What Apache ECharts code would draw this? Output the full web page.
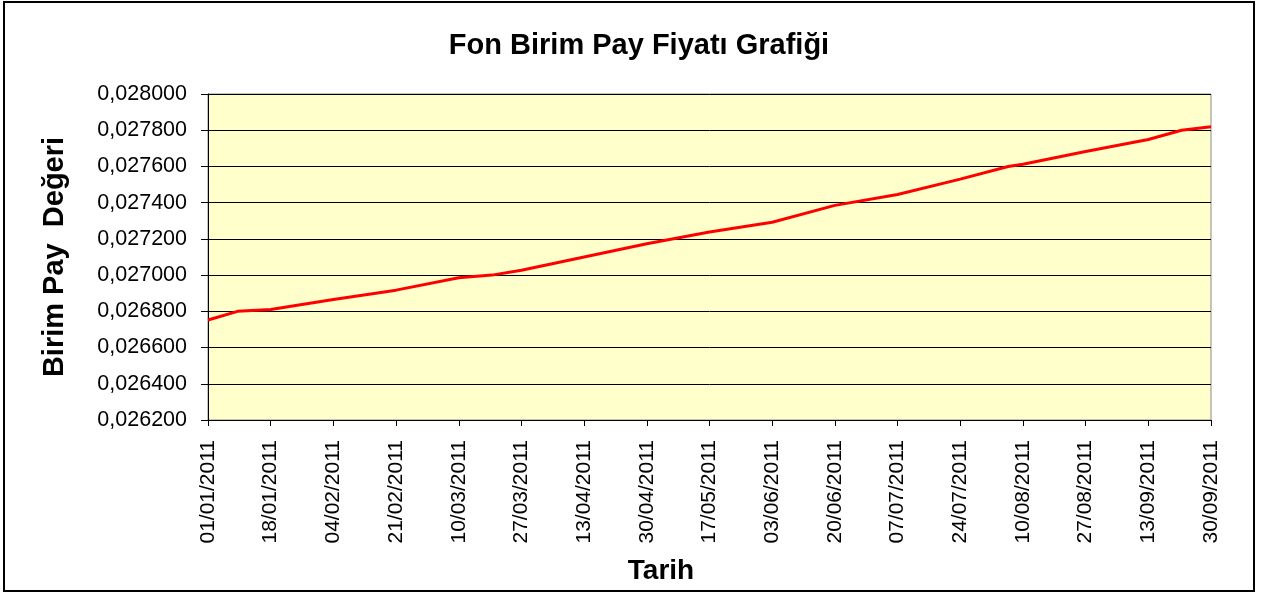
<!DOCTYPE html>
<html>
<head>
<meta charset="utf-8">
<script src="https://cdn.jsdelivr.net/npm/echarts@6/dist/echarts.min.js"></script>
<style>
html,body{margin:0;padding:0;background:#fff;}
#chart{width:1264px;height:597px;}
</style>
</head>
<body>
<div id="chart"></div>
<script>
// Day index counted from 01/01/2011
const dayIndex = [0, 8, 17, 34, 51, 68, 77, 85, 102, 119, 136, 153, 170, 187, 204, 217, 221, 238, 255, 264, 272];
const unitValues = [0.026752, 0.026800, 0.026810, 0.026865, 0.026917, 0.026985, 0.027000, 0.027027, 0.027100, 0.027173, 0.027238, 0.027292, 0.027385, 0.027445, 0.027530, 0.027600, 0.027612, 0.027682, 0.027749, 0.027800, 0.027819];
const tickLabels = ['01/01/2011','18/01/2011','04/02/2011','21/02/2011','10/03/2011','27/03/2011','13/04/2011','30/04/2011','17/05/2011','03/06/2011','20/06/2011','07/07/2011','24/07/2011','10/08/2011','27/08/2011','13/09/2011','30/09/2011'];
const titleText = 'Fon Birim Pay Fiyatı Grafiği';
const yName = 'Birim Pay  Değeri';
const xName = 'Tarih';

const FONT = '"Liberation Sans", Arial, sans-serif';
const chart = echarts.init(document.getElementById('chart'), null, {renderer: 'canvas'});
chart.setOption({
  animation: false,
  backgroundColor: '#ffffff',
  title: [
    {text: titleText, left: 634, top: 26, textAlign: 'center',
     textStyle: {fontFamily: FONT, fontSize: 29, fontWeight: 'bold', color: '#000'}},
    {text: xName, left: 656, top: 552, textAlign: 'center',
     textStyle: {fontFamily: FONT, fontSize: 28, fontWeight: 'bold', color: '#000'}}
  ],
  graphic: [
    {type: 'rect', shape: {x: 4, y: 2, width: 1250, height: 589},
     style: {fill: 'none', stroke: '#000', lineWidth: 2}, z: 100}
  ],
  grid: {left: 208, right: 53, top: 94, bottom: 177, show: true,
         backgroundColor: '#FFFFCC', borderColor: '#8a8a8a', borderWidth: 1},
  xAxis: {
    type: 'value', min: 0, max: 272, interval: 17,
    axisLine: {show: true, onZero: false, lineStyle: {color: '#000', width: 1}},
    axisTick: {show: true, length: 6, lineStyle: {color: '#000'}},
    splitLine: {show: false},
    axisLabel: {
      rotate: 90, margin: 20, color: '#000', fontFamily: FONT, fontSize: 21,
      formatter: v => tickLabels[Math.round(v / 17)] || ''
    }
  },
  yAxis: {
    type: 'value', min: 0.0262, max: 0.028, interval: 0.0002,
    name: yName, nameLocation: 'middle', nameGap: 139, nameRotate: 90,
    nameTextStyle: {fontFamily: FONT, fontSize: 29, fontWeight: 'bold', color: '#000'},
    axisLine: {show: true, lineStyle: {color: '#000', width: 1}},
    axisTick: {show: true, length: 7, lineStyle: {color: '#000'}},
    splitLine: {show: true, lineStyle: {color: '#000', width: 1}},
    axisLabel: {
      margin: 21, color: '#000', fontFamily: FONT, fontSize: 21.5,
      formatter: v => v.toFixed(6).replace('.', ',')
    }
  },
  series: [{
    type: 'line',
    data: dayIndex.map((d, i) => [d, unitValues[i]]),
    showSymbol: false,
    lineStyle: {color: '#FF0000', width: 3},
    itemStyle: {color: '#FF0000'}
  }]
});
</script>
</body>
</html>
